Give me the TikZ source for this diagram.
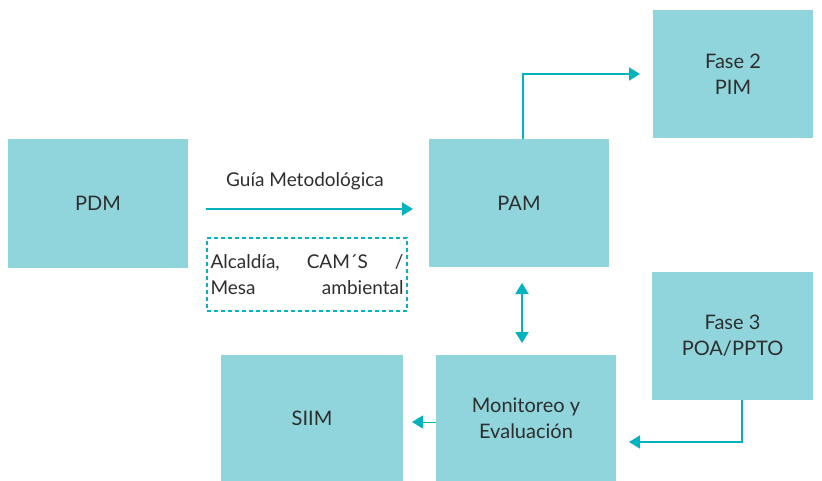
\documentclass[tikz,border=0pt]{standalone}
\usepackage{fontspec}
\setmainfont{Lato}
\usetikzlibrary{arrows.meta}
\definecolor{boxfill}{HTML}{90D4DC}
\definecolor{arrowc}{HTML}{00B3BF}
\definecolor{txt}{HTML}{2E2E2E}
\begin{document}
\begin{tikzpicture}[x=1pt,y=-1pt,
  blk/.style={fill=boxfill,draw=none,inner sep=0pt,text=txt,align=center,font=\fontsize{20}{26}\selectfont},
  conn/.style={draw=arrowc,line width=2pt,-{Triangle[length=11pt,width=13pt]}},
  thin/.style={draw=arrowc,line width=1pt,-{Triangle[length=11pt,width=13pt]}}]
\useasboundingbox (0,0) rectangle (822,481);
\node[blk,minimum width=180pt,minimum height=129pt] (pdm) at (98,203.5) {PDM};
\node[blk,minimum width=180pt,minimum height=128pt] (pam) at (519,203) {PAM};
\node[blk,minimum width=160pt,minimum height=128pt] (f2) at (733,74) {Fase 2\\PIM};
\node[blk,minimum width=161pt,minimum height=128pt] (f3) at (732.5,336) {Fase 3\\POA/PPTO};
\node[blk,minimum width=180pt,minimum height=126pt] (mon) at (526,418) {Monitoreo y\\Evaluación};
\node[blk,minimum width=182pt,minimum height=126pt] (siim) at (312,418) {SIIM};
\coordinate (g1) at (206,209);
\coordinate (g2) at (413,209);
\node[text=txt,font=\fontsize{19}{22}\selectfont] (lab) at (305,181) {Guía Metodológica};
\node[dashed,dash pattern=on 4pt off 3pt,draw=arrowc,line width=1.2pt,minimum width=200pt,minimum height=73pt,inner sep=0pt] (dash) at (307,274.5) {};
\node[text=txt,font=\fontsize{19}{26}\selectfont,align=left,inner sep=0pt] (dtxt) at (307,274.5)
  {\hbox to 193pt{Alcaldía,\hfill CAM´S\hfill /}\\\hbox to 193pt{Mesa\hfill ambiental}};
\draw[conn] (g1) -- (g2);
\coordinate (p1) at (523,74);
\coordinate (p2) at (640,74);
\draw[conn] (pam.north -| p1) |- (p2);
\coordinate (d1) at (522,283);
\coordinate (d2) at (522,343);
\draw[draw=arrowc,line width=2pt,{Triangle[length=11pt,width=13pt]}-{Triangle[length=11pt,width=13pt]}] (d1) -- (d2);
\coordinate (s1) at (412,422);
\draw[thin] (mon.west |- s1) -- (s1);
\coordinate (q1) at (742,442);
\coordinate (q2) at (629,442);
\draw[conn,line width=1.5pt] (f3.south -| q1) -- (q1) -- (q2);
\end{tikzpicture}
\end{document}
